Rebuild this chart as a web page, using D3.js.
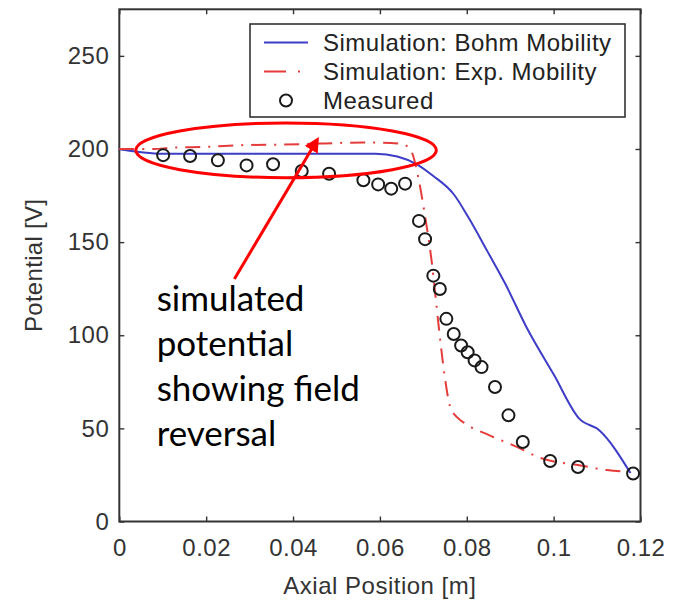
<!DOCTYPE html>
<html>
<head>
<meta charset="utf-8">
<script src="https://cdn.jsdelivr.net/npm/d3@7/dist/d3.min.js"></script>
<style>
    body { margin: 0; background: #fff; }
    text { font-family: "Liberation Sans", Arial, sans-serif; }
</style>
</head>
<body>
<div id="chart"></div>
<script>
// values
var bohmX = [0, 0.004, 0.009, 0.02, 0.04, 0.059, 0.064, 0.0685, 0.0723, 0.077, 0.0804, 0.0847, 0.0889, 0.0936, 0.1, 0.1059, 0.1105, 0.1177];
var bohmY = [200, 198.5, 197.5, 197.5, 197.5, 197.5, 196, 191.8, 185.5, 175.7, 163.2, 145.3, 127.5, 105, 79, 55.2, 49, 26];

var expX = [0, 0.008, 0.0117, 0.0206, 0.0286, 0.038, 0.0473, 0.0562, 0.0643, 0.0668, 0.069, 0.0702, 0.0719, 0.0736, 0.0748, 0.0762, 0.078, 0.0796, 0.085, 0.0906, 0.0974, 0.1059, 0.1123, 0.1169];
var expY = [200, 200, 200.6, 201.2, 202.1, 202.4, 203, 203.5, 203, 200.6, 182.8, 166.8, 140, 103.5, 80, 61.5, 55.5, 52.6, 46.5, 41, 33.8, 30.2, 27.6, 26.7];

var measX = [0.0101, 0.0163, 0.0227, 0.0293, 0.0354, 0.042, 0.0483, 0.0562, 0.0596, 0.0626, 0.0658, 0.069, 0.0704, 0.0723, 0.0738, 0.0753, 0.077, 0.0787, 0.0802, 0.0818, 0.0834, 0.0865, 0.0896, 0.0929, 0.0992, 0.1056, 0.1183];
var measY = [196.7, 196.2, 193.9, 191.2, 191.8, 188.2, 186.7, 183.2, 181, 178.7, 181.4, 161.4, 151.6, 132, 124.8, 108.8, 100.7, 94.5, 90.9, 86.5, 82.9, 72.2, 57, 42.7, 32.5, 29.3, 25.8];

var xTicks = [0, 0.02, 0.04, 0.06, 0.08, 0.1, 0.12];
var yTicks = [0, 50, 100, 150, 200, 250];
var legendNames = ["Simulation: Bohm Mobility", "Simulation: Exp. Mobility", "Measured"];
var noteLines = ["simulated", "potential", "showing field", "reversal"];

var svgWidth = 677, svgHeight = 600;
var margin = {top: 9.3, left: 119.3, right: 36.5, bottom: 78.5};
var chartWidth = svgWidth - margin.left - margin.right;
var chartHeight = svgHeight - margin.top - margin.bottom;

var blue = "#3d3dc8", red = "#e63b3b", frame = "#333";

var xScale = d3.scaleLinear()
    .domain([0, 0.12])
    .range([0, chartWidth]);

var yScale = d3.scaleLinear()
    .domain([0, 275])
    .range([chartHeight, 0]);

var zip = function (xs, ys) {
    return xs.map(function (x, i) { return {x: x, y: ys[i]}; });
};

var lineFunction = d3.line()
    .curve(d3.curveMonotoneX)
    .x(function (d) { return xScale(d.x); })
    .y(function (d) { return yScale(d.y); });

var svg = d3.select("#chart").append("svg")
    .attr("width", svgWidth)
    .attr("height", svgHeight);

var g = svg.append("g")
    .attr("transform", "translate(" + margin.left + "," + margin.top + ")");

// axes, ticks pointing inwards on all four sides
var fmtX = function (d) { return d === 0 ? "0" : String(+d.toFixed(2)); };

var axisStyle = function (sel) {
    sel.select(".domain").remove();
    sel.selectAll("line").attr("stroke", frame).attr("stroke-width", 1.4);
    sel.selectAll("text")
        .attr("fill", "#333")
        .style("font-size", "24px")
        .style("letter-spacing", "0.5px");
};

g.append("g")
    .attr("transform", "translate(0," + chartHeight + ")")
    .call(d3.axisBottom(xScale).tickValues(xTicks).tickFormat(fmtX).tickSizeInner(-5).tickSizeOuter(0).tickPadding(17))
    .call(axisStyle);

g.append("g")
    .call(d3.axisTop(xScale).tickValues(xTicks).tickFormat("").tickSizeInner(-5).tickSizeOuter(0))
    .call(axisStyle);

g.append("g")
    .call(d3.axisLeft(yScale).tickValues(yTicks).tickFormat(d3.format("d")).tickSizeInner(-5).tickSizeOuter(0).tickPadding(10))
    .call(axisStyle);

g.append("g")
    .attr("transform", "translate(" + chartWidth + ",0)")
    .call(d3.axisRight(yScale).tickValues(yTicks).tickFormat("").tickSizeInner(-5).tickSizeOuter(0))
    .call(axisStyle);

g.append("rect")
    .attr("width", chartWidth)
    .attr("height", chartHeight)
    .attr("fill", "none")
    .attr("stroke", frame)
    .attr("stroke-width", 2);

// axis titles
svg.append("text")
    .attr("x", margin.left + chartWidth / 2)
    .attr("y", 594)
    .attr("text-anchor", "middle")
    .attr("fill", "#333")
    .style("font-size", "24px")
    .style("letter-spacing", "0.5px")
    .text("Axial Position [m]");

svg.append("text")
    .attr("transform", "translate(42," + (margin.top + chartHeight / 2) + ") rotate(-90)")
    .attr("text-anchor", "middle")
    .attr("fill", "#333")
    .style("font-size", "24px")
    .style("letter-spacing", "0.3px")
    .text("Potential [V]");

// series
g.append("path")
    .datum(zip(bohmX, bohmY))
    .attr("fill", "none")
    .attr("stroke", blue)
    .attr("stroke-width", 2)
    .attr("d", lineFunction);

g.append("path")
    .datum(zip(expX, expY))
    .attr("fill", "none")
    .attr("stroke", red)
    .attr("stroke-width", 2)
    .attr("stroke-dasharray", "15,8,2,8")
    .attr("d", lineFunction);

g.selectAll("circle.meas")
    .data(zip(measX, measY))
    .enter().append("circle")
    .attr("class", "meas")
    .attr("cx", function (d) { return xScale(d.x); })
    .attr("cy", function (d) { return yScale(d.y); })
    .attr("r", 6)
    .attr("fill", "none")
    .attr("stroke", "#1a1a1a")
    .attr("stroke-width", 2);

// legend
var legend = svg.append("g").attr("transform", "translate(250,24)");

legend.append("rect")
    .attr("width", 375)
    .attr("height", 93)
    .attr("fill", "#fff")
    .attr("stroke", frame)
    .attr("stroke-width", 1.6);

var rows = legend.selectAll("g.row")
    .data(legendNames)
    .enter().append("g")
    .attr("class", "row")
    .attr("transform", function (d, i) { return "translate(0," + (18.5 + i * 29) + ")"; });

rows.append("text")
    .attr("x", 73)
    .attr("dy", "0.36em")
    .attr("fill", "#222")
    .style("font-size", "24px")
    .style("letter-spacing", "0.5px")
    .text(function (d) { return d; });

rows.filter(function (d, i) { return i === 0; }).append("line")
    .attr("x1", 14).attr("x2", 58)
    .attr("stroke", blue).attr("stroke-width", 2);

rows.filter(function (d, i) { return i === 1; }).append("line")
    .attr("x1", 14).attr("x2", 58)
    .attr("stroke", red).attr("stroke-width", 2)
    .attr("stroke-dasharray", "22,12,2,20");

rows.filter(function (d, i) { return i === 2; }).append("circle")
    .attr("cx", 36).attr("r", 6)
    .attr("fill", "none").attr("stroke", "#1a1a1a").attr("stroke-width", 2);

// annotation: ellipse, arrow and note
var ell = {x: 0.0384, y: 199.3, rx: 0.0346, ry: 14.7};
g.append("ellipse")
    .attr("cx", xScale(ell.x))
    .attr("cy", yScale(ell.y))
    .attr("rx", xScale(ell.rx) - xScale(0))
    .attr("ry", yScale(0) - yScale(ell.ry))
    .attr("fill", "none")
    .attr("stroke", "#ff0000")
    .attr("stroke-width", 3);

svg.append("defs").append("marker")
    .attr("id", "head")
    .attr("viewBox", "0 0 10 10")
    .attr("refX", 8).attr("refY", 5)
    .attr("markerWidth", 5).attr("markerHeight", 5)
    .attr("orient", "auto")
    .append("path")
    .attr("d", "M0,0 L10,5 L0,10 z")
    .attr("fill", "#ff0000");

var arrowFrom = {x: 0.0265, y: 130.2}, arrowTo = {x: 0.0456, y: 205.1};
g.append("line")
    .attr("x1", xScale(arrowFrom.x)).attr("y1", yScale(arrowFrom.y))
    .attr("x2", xScale(arrowTo.x)).attr("y2", yScale(arrowTo.y))
    .attr("stroke", "#ff0000")
    .attr("stroke-width", 3)
    .attr("marker-end", "url(#head)");

g.append("g").selectAll("text")
    .data(noteLines)
    .enter().append("text")
    .attr("x", xScale(0.0086))
    .attr("y", function (d, i) { return yScale(112.8) + i * 44.8; })
    .attr("fill", "#000")
    .style("font-family", "Lato, 'Open Sans', sans-serif")
    .style("font-size", "35px")
    .text(function (d) { return d; });
</script>
</body>
</html>
